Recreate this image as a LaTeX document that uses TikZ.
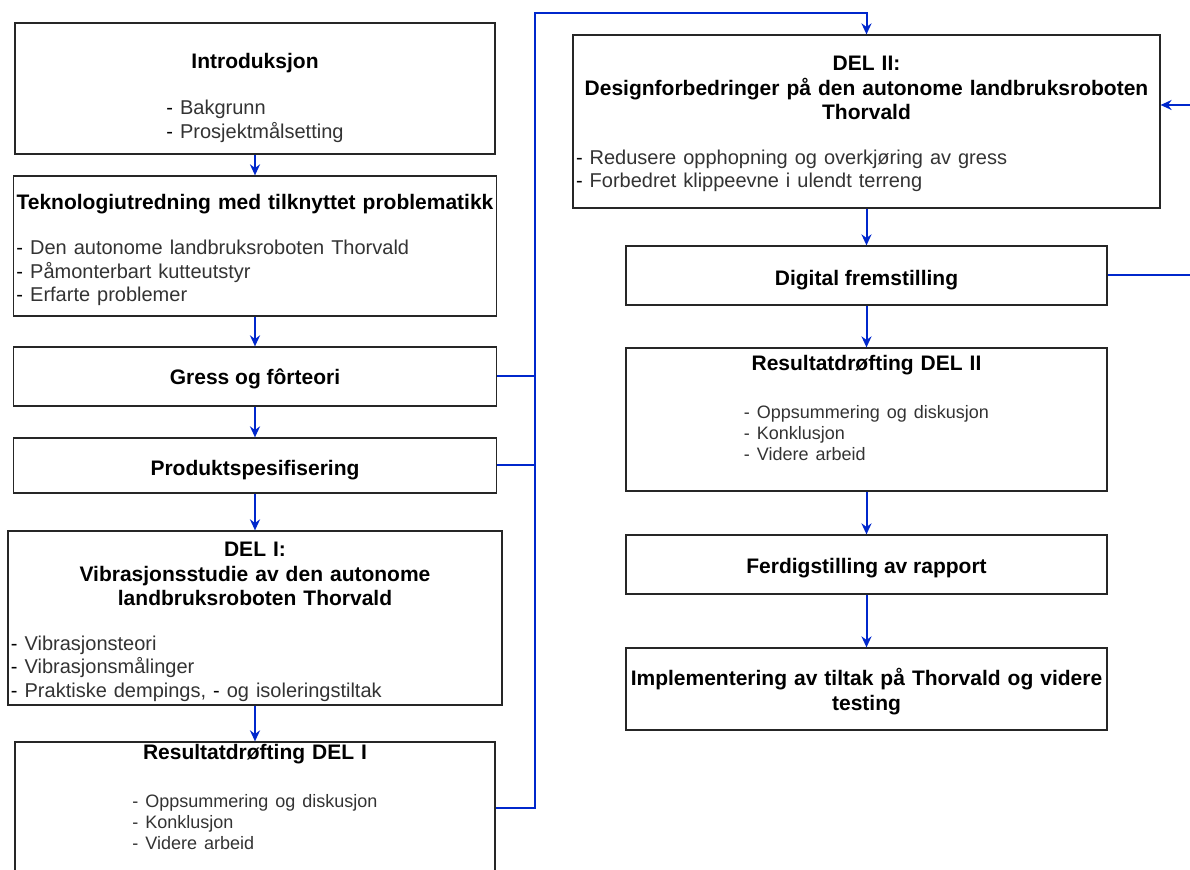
\documentclass[tikz,border=0pt]{standalone}
\usepackage{fontspec}
\setmainfont{Liberation Sans}
\usetikzlibrary{arrows.meta}
\definecolor{flowBlue}{RGB}{0,39,204}
\definecolor{itemGrey}{RGB}{51,51,51}
\newcommand{\hd}{\fontsize{10.5}{12.25}\selectfont\bfseries}
\newcommand{\itm}[1]{{\mdseries\fontsize{10}{11.75}\selectfont\begin{tabular}[t]{@{}l@{}}#1\end{tabular}}}
\newcommand{\itms}[1]{{\mdseries\fontsize{9}{10.5}\selectfont\begin{tabular}[t]{@{}l@{}}#1\end{tabular}}}
\newcommand{\itemblk}[1]{\textcolor{black}{-} \textcolor{itemGrey}{#1}}
\newcommand{\itemgry}[1]{\textcolor{itemGrey}{- #1}}
\newcommand{\lft}[1]{\makebox[\hsize][l]{\hspace*{1.5pt}#1}}
\tikzset{
    stage/.style={draw=black!85, line width=0.6pt, fill=white, inner sep=0pt, align=center, font=\hd},
    lift/.style={execute at begin node={\rule{0pt}{#1}}},
    flow/.style={flowBlue, line width=1pt, ->},
}

\begin{document}
\begin{tikzpicture}[x=0.5pt, y=-0.5pt, >={Stealth[length=5.5pt,width=5pt]}]
        \useasboundingbox (0,0) rectangle (1190,870);
        \clip (0,0) rectangle (1190,870);
        % left column
        \node[stage, lift=18.5pt, minimum width=240pt, text width=240pt, minimum height=65.5pt] (intro) at (255,88.5)
            {Introduksjon\\[11pt]\itm{\itemblk{Bakgrunn}\\\itemblk{Prosjektmålsetting}}};
        \node[stage, lift=13.5pt, minimum width=241.5pt, text width=241.5pt, minimum height=70pt] (tekno) at (255,246)
            {Teknologiutredning med tilknyttet problematikk\\[10.25pt]\lft{\itm{\itemblk{Den autonome landbruksroboten Thorvald}\\\itemblk{Påmonterbart kutteutstyr}\\\itemblk{Erfarte problemer}}}};
        \node[stage, lift=10pt, minimum width=241.5pt, minimum height=29.5pt] (gress) at (255,376.5) {Gress og fôrteori};
        \node[stage, lift=12pt, minimum width=241.5pt, minimum height=27.5pt] (produkt) at (255,465.5) {Produktspesifisering};
        \node[stage, lift=12.5pt, minimum width=247pt, text width=247pt, minimum height=87pt] (del1) at (255,618)
            {DEL I:\\Vibrasjonsstudie av den autonome\\landbruksroboten Thorvald\\[10pt]\lft{\itm{\itemblk{Vibrasjonsteori}\\\itemblk{Vibrasjonsmålinger}\\\itemblk{Praktiske dempings, \textcolor{black}{-} og isoleringstiltak}}}};
        \node[stage, minimum width=240pt, text width=240pt, minimum height=74pt] (res1) at (255,816)
            {Resultatdrøfting DEL I\\[11.75pt]\itms{\itemgry{Oppsummering og diskusjon}\\\itemgry{Konklusjon}\\\itemgry{Videre arbeid}}\\[15pt]\mbox{}};
        % right column
        \node[stage, lift=11.5pt, minimum width=293.5pt, text width=293.5pt, minimum height=86.5pt] (del2) at (866.5,121.5)
            {DEL II:\\Designforbedringer på den autonome landbruksroboten\\Thorvald\\[10pt]\lft{\itm{\itemblk{Redusere opphopning og overkjøring av gress}\\\itemblk{Forbedret klippeevne i ulendt terreng}}}};
        \node[stage, lift=12pt, minimum width=240.5pt, minimum height=29.5pt] (digital) at (866.5,275.5) {Digital fremstilling};
        \node[stage, minimum width=240.5pt, text width=240.5pt, minimum height=71.5pt] (res2) at (866.5,419.5)
            {Resultatdrøfting DEL II\\[11.75pt]\itms{\itemgry{Oppsummering og diskusjon}\\\itemgry{Konklusjon}\\\itemgry{Videre arbeid}}\\[7pt]\mbox{}};
        \node[stage, lift=11pt, minimum width=240.5pt, minimum height=29.5pt] (ferdig) at (866.5,564.5) {Ferdigstilling av rapport};
        \node[stage, lift=11pt, minimum width=240.5pt, text width=240.5pt, minimum height=41pt] (impl) at (866.5,689)
            {Implementering av tiltak på Thorvald og videre\\testing};
        % arrows
        \draw[flow] (intro) -- (tekno);
        \draw[flow] (tekno) -- (gress);
        \draw[flow] (gress) -- (produkt);
        \draw[flow] (produkt) -- (del1);
        \draw[flow] (del1) -- (del1.south |- res1.north);
        \draw[flow] (del2) -- (digital);
        \draw[flow] (digital) -- (res2);
        \draw[flow] (res2) -- (ferdig);
        \draw[flow] (ferdig) -- (impl);
        % joins into DEL II
        \coordinate (join) at (535,13);
        \draw[flowBlue, line width=1pt] (gress.east) -- (gress.east -| join);
        \draw[flowBlue, line width=1pt] (produkt.east) -- (produkt.east -| join);
        \draw[flow] ([yshift=4pt]res1.east) -- ([yshift=4pt]res1.east -| join) -- (join) -- (join -| del2.north) -- (del2.north);
        \coordinate (loop) at (1215,105);
        \draw[flow] (digital.east) -| (loop) -- (loop -| del2.east);
\end{tikzpicture}
\end{document}
